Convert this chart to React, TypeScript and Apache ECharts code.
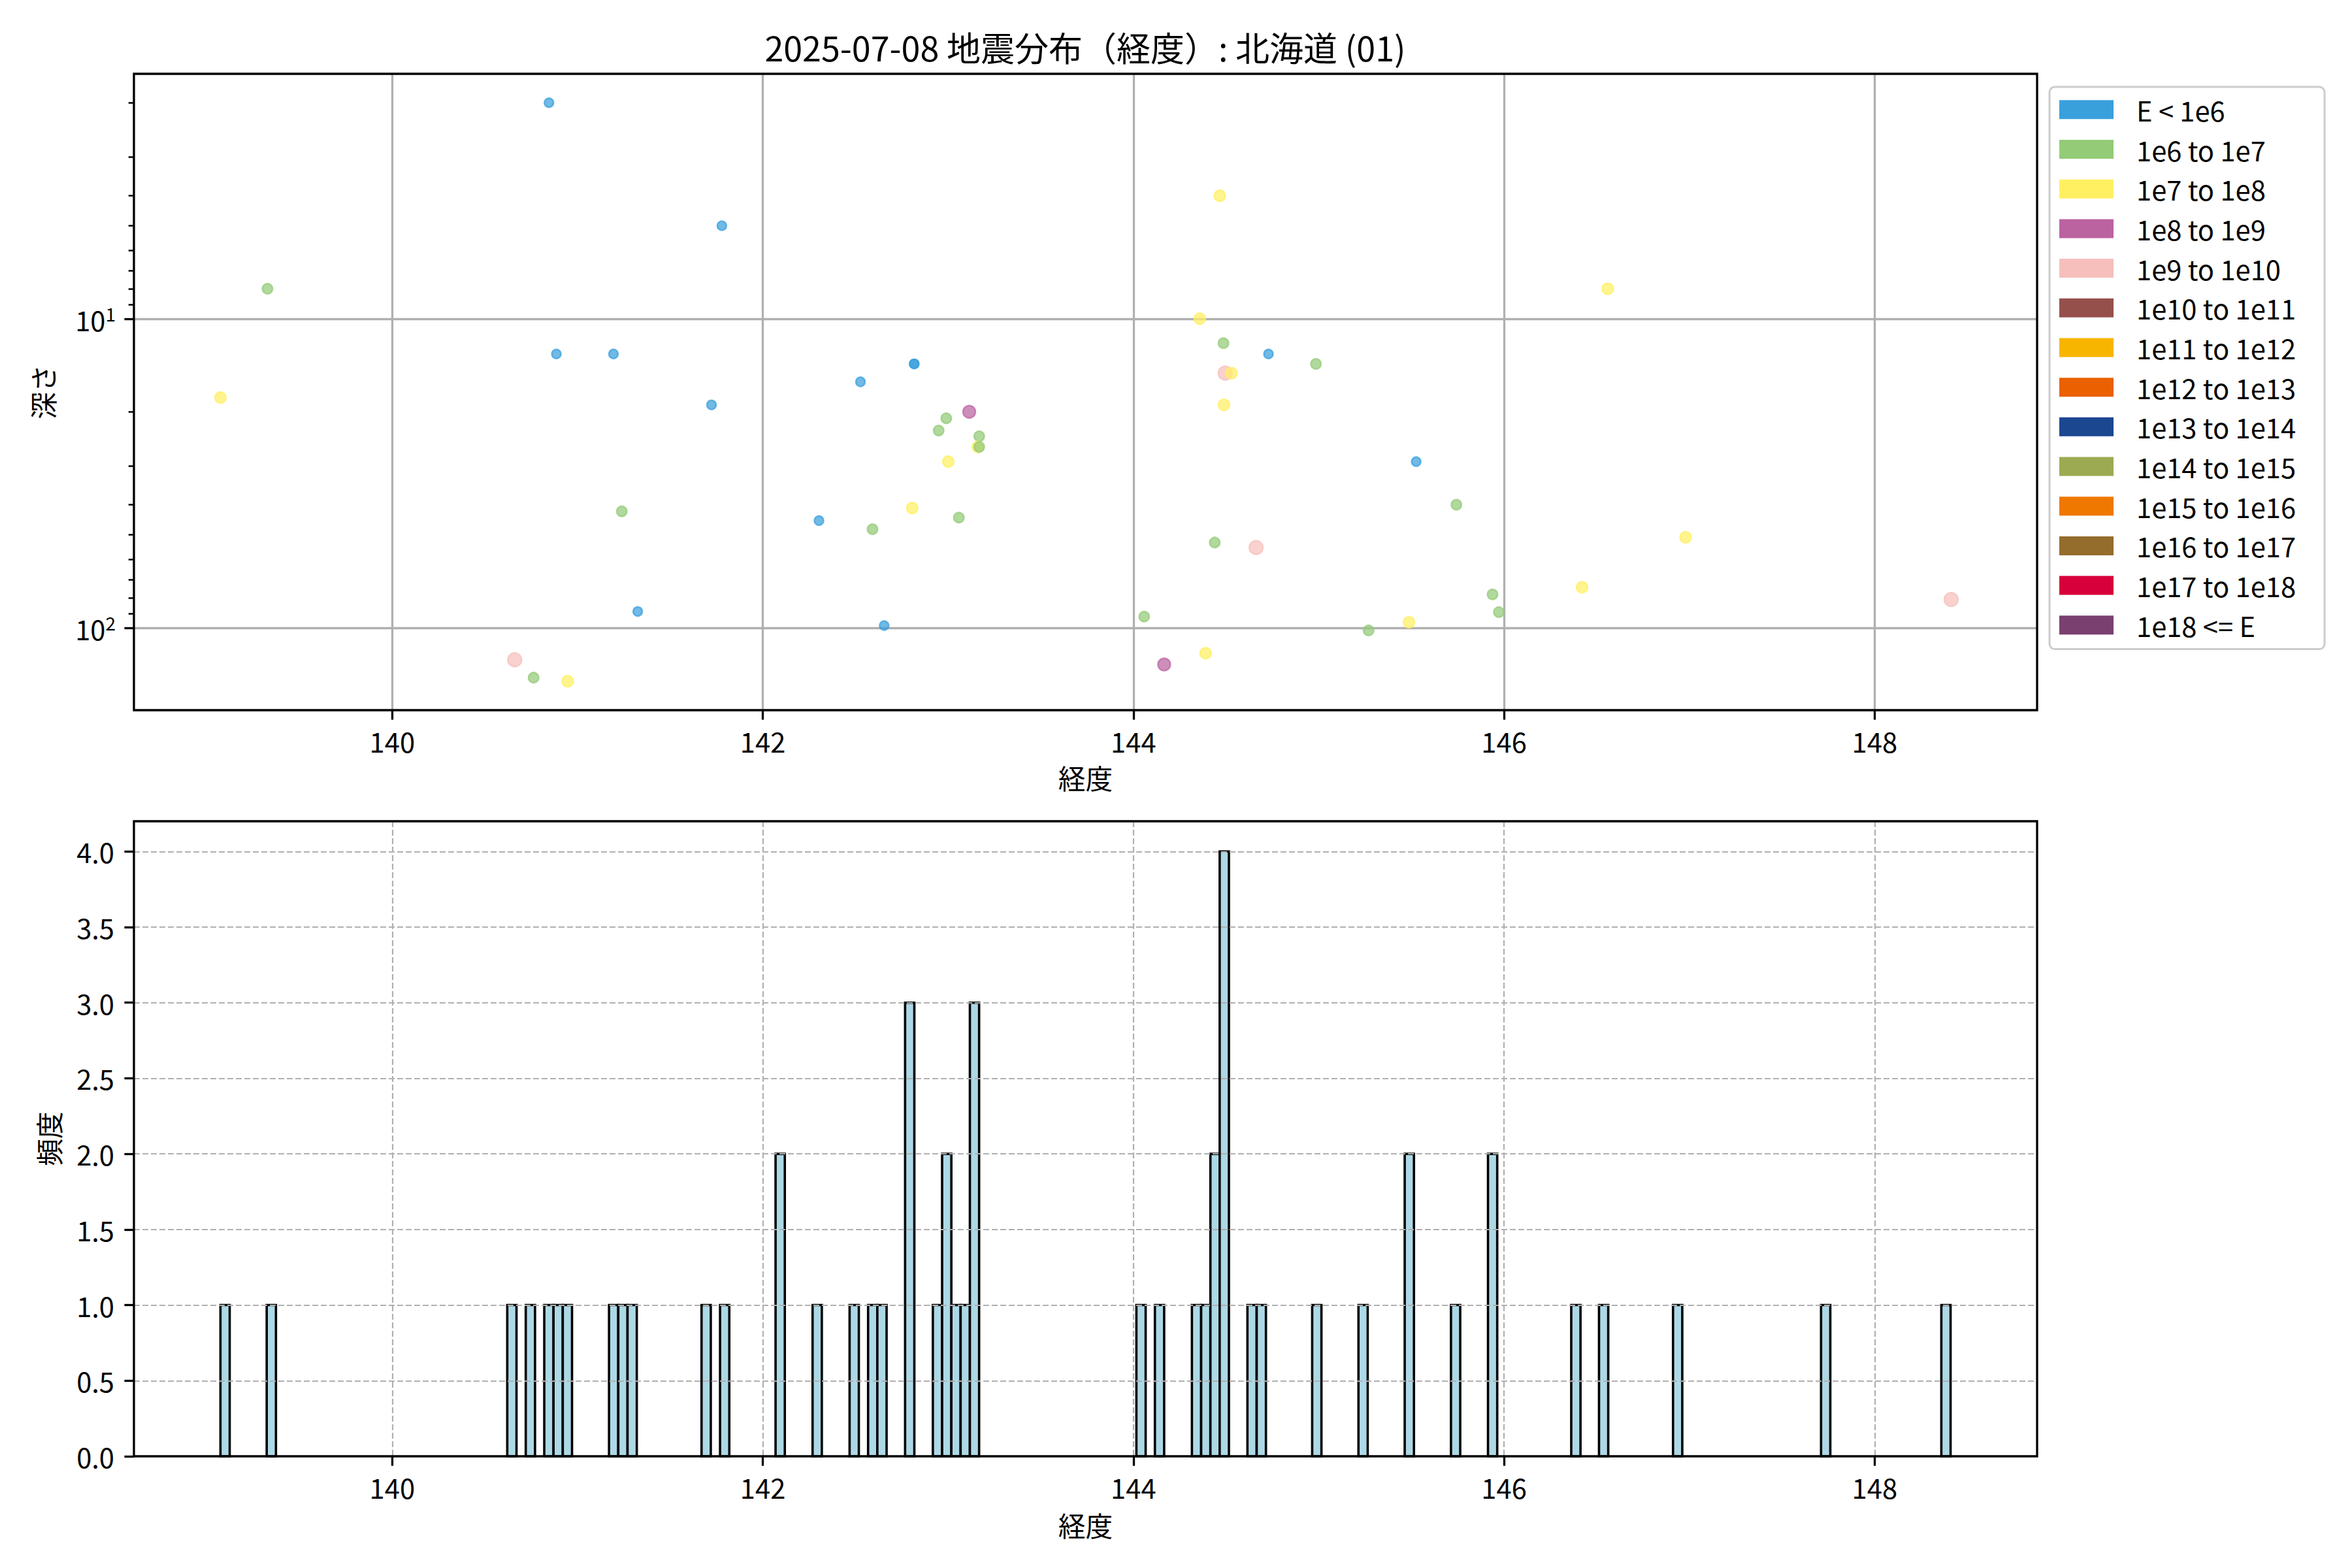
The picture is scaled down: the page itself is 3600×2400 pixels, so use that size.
import React, { useEffect, useRef } from 'react';
import * as echarts from 'echarts';

// ---------- texts ----------
const TITLE = '2025-07-08 地震分布（経度）: 北海道 (01)';
const X_NAME = '経度';
const Y_NAME_TOP = '深さ';
const Y_NAME_BOTTOM = '頻度';

// ---------- energy classes (legend) ----------
const ENERGY_CLASSES = [
  'E < 1e6', '1e6 to 1e7', '1e7 to 1e8', '1e8 to 1e9', '1e9 to 1e10',
  '1e10 to 1e11', '1e11 to 1e12', '1e12 to 1e13', '1e13 to 1e14', '1e14 to 1e15',
  '1e15 to 1e16', '1e16 to 1e17', '1e17 to 1e18', '1e18 <= E',
];
const CLASS_COLORS = [
  '#3aa0dc', '#93cb77', '#fff062', '#bb63a1', '#f6bfbb',
  '#95504c', '#f8b500', '#eb6000', '#1b4791', '#9cab51',
  '#ef7800', '#946c2c', '#d8003a', '#7a4070',
];
// marker size per class (style)
const CLASS_MARKER_SIZE = [14, 15.5, 17, 19, 21, 22, 23, 24, 25, 26, 27, 28, 29, 30];

// ---------- scatter data: longitude, depth, energy class ----------
const LON = [
  140.846, 141.779, 139.327, 140.886, 141.194, 139.073, 141.723, 141.239, 141.325, 140.661,
  140.763, 140.947, 144.466, 144.358, 144.486, 144.729, 144.985, 144.495, 144.529, 144.489,
  142.817, 142.817, 142.527, 143.114, 142.990, 142.949, 143.168, 143.160, 143.168, 143.001,
  142.806, 143.058, 142.303, 142.592, 142.655, 144.439, 144.662, 144.058, 145.269, 144.390,
  144.166, 146.560, 145.526, 145.743, 146.980, 146.421, 145.938, 145.972, 145.487, 148.413,
];
const DEPTH = [
  2.0, 5.0, 8.0, 13.0, 13.0, 18.0, 19.0, 42.0, 88.6, 127.0,
  145.0, 149.0, 4.0, 10.0, 12.0, 13.0, 14.0, 15.0, 15.0, 19.0,
  14.0, 14.0, 16.0, 20.0, 21.0, 23.0, 24.0, 26.0, 26.0, 29.0,
  41.0, 44.0, 45.0, 48.0, 98.4, 53.0, 55.0, 92.0, 102.0, 121.0,
  131.5, 8.0, 29.0, 40.0, 51.0, 74.0, 78.0, 89.0, 96.0, 81.0,
];
const CLASS = [
  0, 0, 1, 0, 0, 2, 0, 1, 0, 4,
  1, 2, 2, 2, 1, 0, 1, 4, 2, 2,
  0, 0, 0, 3, 1, 1, 1, 2, 1, 2,
  2, 1, 0, 1, 0, 1, 4, 1, 1, 2,
  3, 2, 0, 1, 2, 2, 1, 1, 2, 4,
];

// ---------- histogram (longitude frequency) ----------
const HIST_MIN = 139.073;
const HIST_MAX = 148.41;
const HIST_BINS = 187;
const HIST_BIN_INDEX = [
  0, 5, 31, 33, 35, 36, 37, 42, 43, 44, 52, 54,
  60, 64, 68, 70, 71, 74, 77, 78, 79, 80, 81,
  99, 101, 105, 106, 107, 108, 111, 112, 118, 123, 128, 133, 137,
  146, 149, 157, 173, 186,
];
const HIST_COUNT = [
  1, 1, 1, 1, 1, 1, 1, 1, 1, 1, 1, 1,
  2, 1, 1, 1, 1, 3, 1, 2, 1, 1, 3,
  1, 1, 1, 1, 2, 4, 1, 1, 1, 1, 2, 1, 2,
  1, 1, 1, 1, 1,
];

// ---------- ticks ----------
const X_TICKS = [140, 142, 144, 146, 148];
const Y_TOP_TICKS = [10, 100];
const Y_TOP_MINOR_TICKS = [2, 3, 4, 5, 6, 7, 8, 9, 20, 30, 40, 50, 60, 70, 80, 90];
const Y_BOTTOM_TICKS = [0, 0.5, 1, 1.5, 2, 2.5, 3, 3.5, 4];

const FONT = '"Noto Sans CJK JP", "Noto Sans", sans-serif';
const FS = 41.7;

function buildOption() {
  const lonPad = 0.05 * (HIST_MAX - HIST_MIN);
  const xMin = HIST_MIN - lonPad;
  const xMax = HIST_MAX + lonPad;

  const lMin = Math.log10(Math.min(...DEPTH));
  const lMax = Math.log10(Math.max(...DEPTH));
  const lPad = 0.05 * (lMax - lMin);
  const yMin = Math.pow(10, lMin - lPad);
  const yMax = Math.pow(10, lMax + lPad);

  const hMax = Math.max(...HIST_COUNT) * 1.05;
  const binW = (HIST_MAX - HIST_MIN) / HIST_BINS;

  const tick = (len: number, w: number, values: number[]) => ({
    show: true,
    inside: false,
    length: len,
    customValues: values,
    lineStyle: { color: '#000', width: w },
  });

  const xFmt = (v: number) =>
    X_TICKS.some((t) => Math.abs(t - v) < 1e-6) ? String(Math.round(v)) : '';

  const xAxisCommon = (gridIndex: number, dashed: boolean, gap: number) => ({
    type: 'value',
    gridIndex,
    position: 'bottom',
    min: xMin,
    max: xMax,
    axisLine: { show: false },
    axisTick: tick(14.6, 3.3, X_TICKS),
    axisLabel: {
      customValues: X_TICKS,
      fontSize: FS,
      fontFamily: FONT,
      color: '#000',
      margin: 26,
      formatter: xFmt,
    },
    splitLine: {
      show: true,
      lineStyle: dashed
        ? { color: '#b0b0b0', width: 2.2, type: [9, 4] }
        : { color: '#b0b0b0', width: 3.3 },
    },
    name: X_NAME,
    nameLocation: 'middle',
    nameGap: gap,
    nameTextStyle: { fontSize: FS, fontFamily: FONT, color: '#000' },
  });

  const scatterData = LON.map((lon, i) => {
    const c = CLASS[i];
    return {
      value: [lon, DEPTH[i]],
      symbolSize: CLASS_MARKER_SIZE[c],
      itemStyle: { color: CLASS_COLORS[c], borderColor: CLASS_COLORS[c] },
    };
  });

  const histData = HIST_BIN_INDEX.map((b, i) => [
    HIST_MIN + b * binW,
    HIST_MIN + (b + 1) * binW,
    HIST_COUNT[i],
  ]);

  const legendSeries = ENERGY_CLASSES.map((name, i) => ({
    name,
    type: 'scatter',
    xAxisIndex: 0,
    yAxisIndex: 0,
    data: [],
    itemStyle: { color: CLASS_COLORS[i] },
  }));

  return {
    animation: false,
    backgroundColor: '#ffffff',
    textStyle: { fontFamily: FONT },
    graphic: [
      {
        type: 'text',
        x: 1661,
        y: 71,
        style: {
          text: TITLE,
          fontSize: 52,
          fontFamily: FONT,
          fill: '#000',
          textAlign: 'center',
          textVerticalAlign: 'middle',
        },
      },
    ],
    legend: {
      orient: 'vertical',
      left: 3137,
      top: 133,
      selectedMode: false,
      icon: 'rect',
      itemWidth: 83,
      itemHeight: 29,
      itemGap: 19,
      padding: [14, 44, 16, 15],
      borderColor: '#cccccc',
      borderWidth: 3,
      borderRadius: 8,
      backgroundColor: 'rgba(255,255,255,0.8)',
      itemStyle: { opacity: 1, borderWidth: 0 },
      textStyle: { fontSize: FS, fontFamily: FONT, color: '#000', padding: [0, 0, 0, 30] },
      data: ENERGY_CLASSES,
    },
    grid: [
      { left: 205, top: 113, width: 2913, height: 974, show: true, borderColor: '#000', borderWidth: 3.3, backgroundColor: 'transparent', z: 10 },
      { left: 205, top: 1257, width: 2913, height: 972, show: true, borderColor: '#000', borderWidth: 3.3, backgroundColor: 'transparent', z: 10 },
    ],
    xAxis: [xAxisCommon(0, false, 82), xAxisCommon(1, true, 84)],
    yAxis: [
      {
        type: 'log',
        logBase: 10,
        gridIndex: 0,
        position: 'left',
        inverse: true,
        min: yMin,
        max: yMax,
        axisLine: { show: false },
        axisTick: tick(14.6, 3.3, Y_TOP_TICKS),
        axisLabel: {
          customValues: Y_TOP_TICKS,
          margin: 28,
          color: '#000',
          formatter: (v: number) => {
            const e = Math.log10(v);
            if (Math.abs(e - Math.round(e)) > 1e-6) return '';
            return '{a|10}{b|' + Math.round(e) + '}';
          },
          rich: {
            a: { fontSize: FS, fontFamily: FONT, color: '#000', lineHeight: 44, verticalAlign: 'bottom' },
            b: { fontSize: 28, fontFamily: FONT, color: '#000', lineHeight: 28, verticalAlign: 'top' },
          },
        },
        splitLine: { show: true, lineStyle: { color: '#b0b0b0', width: 3.3 } },
        name: Y_NAME_TOP,
        nameLocation: 'middle',
        nameRotate: 90,
        nameGap: 119,
        nameTextStyle: { fontSize: FS, fontFamily: FONT, color: '#000' },
      },
      {
        type: 'log',
        logBase: 10,
        gridIndex: 0,
        position: 'left',
        offset: 0,
        inverse: true,
        min: yMin,
        max: yMax,
        axisLine: { show: false },
        axisTick: tick(8.3, 2.5, Y_TOP_MINOR_TICKS),
        axisLabel: { show: false },
        splitLine: { show: false },
      },
      {
        type: 'value',
        gridIndex: 1,
        position: 'left',
        min: 0,
        max: hMax,
        axisLine: { show: false },
        axisTick: tick(14.6, 3.3, Y_BOTTOM_TICKS),
        axisLabel: {
          customValues: Y_BOTTOM_TICKS,
          margin: 30,
          fontSize: FS,
          fontFamily: FONT,
          color: '#000',
          formatter: (v: number) =>
            Math.abs(v * 2 - Math.round(v * 2)) < 1e-6 ? v.toFixed(1) : '',
        },
        splitLine: { show: true, lineStyle: { color: '#b0b0b0', width: 2.2, type: [9, 4] } },
        name: Y_NAME_BOTTOM,
        nameLocation: 'middle',
        nameRotate: 90,
        nameGap: 110,
        nameTextStyle: { fontSize: FS, fontFamily: FONT, color: '#000' },
      },
    ],
    series: [
      ...legendSeries,
      {
        name: 'points',
        type: 'scatter',
        xAxisIndex: 0,
        yAxisIndex: 0,
        z: 3,
        itemStyle: { opacity: 0.72, borderWidth: 2.4 },
        data: scatterData,
      },
      {
        name: 'hist',
        type: 'custom',
        xAxisIndex: 1,
        yAxisIndex: 2,
        z: -1,
        encode: { x: [0, 1], y: 2 },
        data: histData,
        renderItem: (params: any, api: any) => {
          const p0 = api.coord([api.value(0), api.value(2)]);
          const p1 = api.coord([api.value(1), 0]);
          return {
            type: 'rect',
            shape: { x: p0[0], y: p0[1], width: p1[0] - p0[0], height: p1[1] - p0[1] },
            style: { fill: '#add8e6', stroke: '#000', lineWidth: 3.6 },
          };
        },
      },
    ],
  };
}

export default function App() {
  const ref = useRef<HTMLDivElement>(null);
  useEffect(() => {
    if (!ref.current) return;
    const chart = echarts.init(ref.current, null, { renderer: 'svg', width: 3600, height: 2400 });
    chart.setOption(buildOption() as any);
    return () => chart.dispose();
  }, []);
  return (
    <div
      ref={ref}
      style={{ position: 'absolute', left: 0, top: 0, width: 3600, height: 2400, background: '#fff' }}
    />
  );
}
